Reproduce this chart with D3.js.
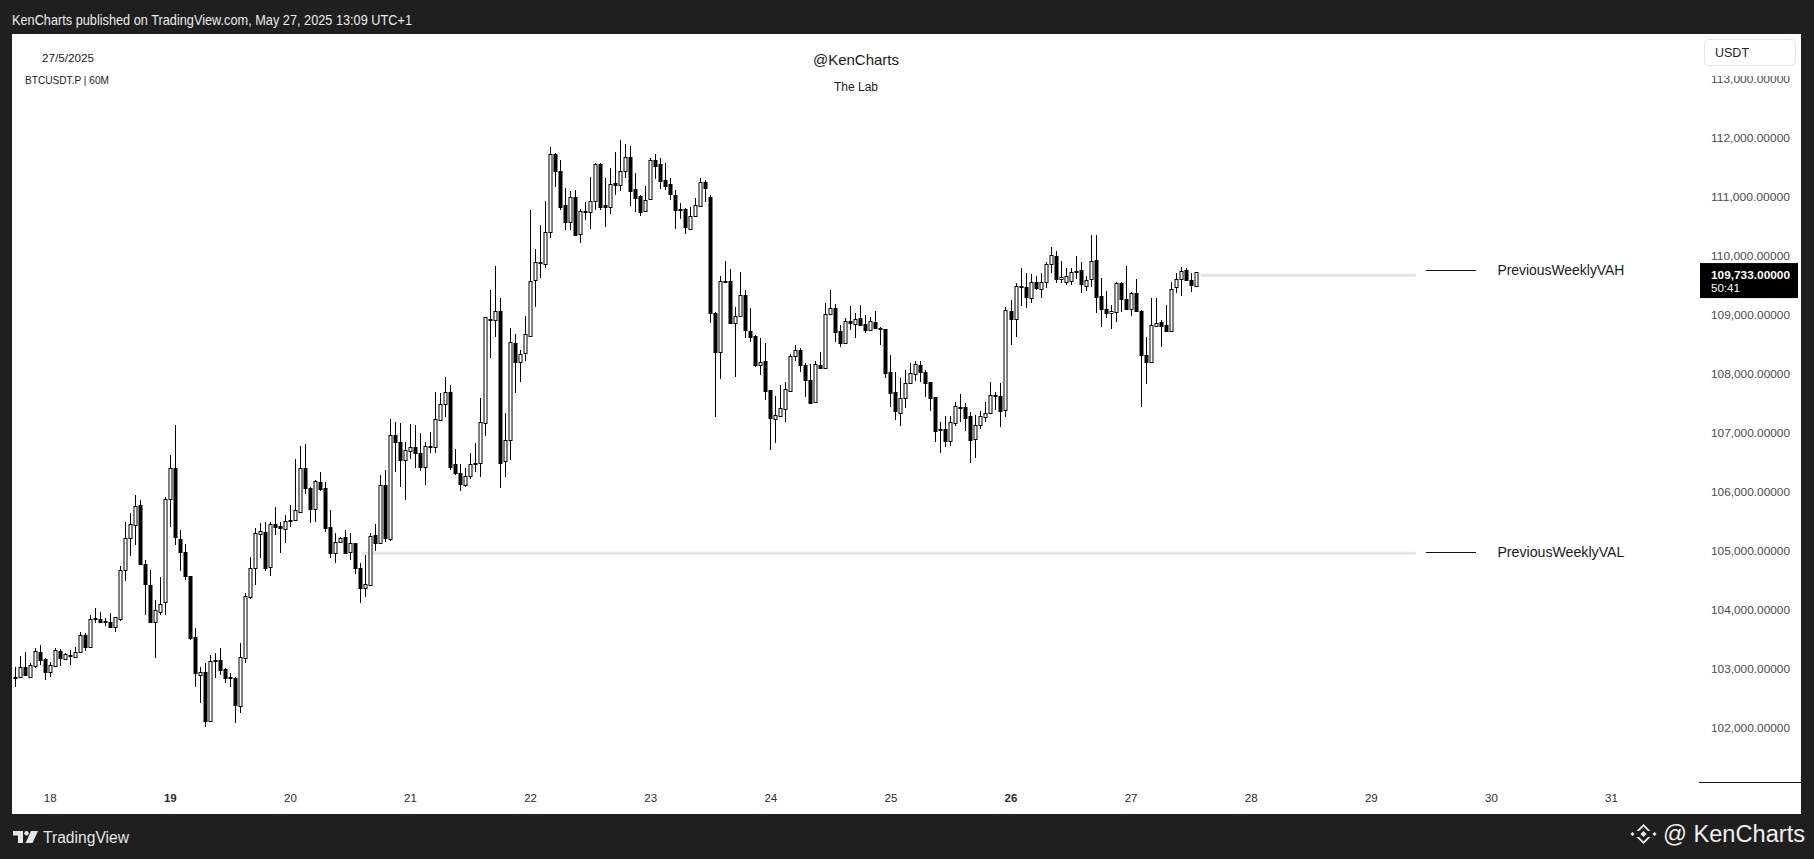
<!DOCTYPE html>
<html><head><meta charset="utf-8">
<script src="https://cdn.jsdelivr.net/npm/d3@7"></script>
<style>html,body{margin:0;padding:0;background:#1f1f1f;overflow:hidden}</style>
</head><body><svg id="c" width="1814" height="859"></svg>
<script>
// ---------- DATA (BTCUSDT.P, 60m candles, first bar 17 May 2025 17:00) ----------
const firstCandle = Date.UTC(2025, 4, 17, 17);
const opens = [
102874,102874,103044,102874,103061,103298,103168,102959,103061,103315,
103180,103242,103214,103287,103581,103383,103863,103852,103818,103807,
103722,103852,104683,105219,105451,105784,104784,104428,103807,103976,
104146,105880,106417,105208,104993,104581,103553,102903,102959,102129,
103146,103157,102999,102875,102858,102383,103197,104231,104722,105287,
105321,104739,105457,105434,105372,105519,105530,105660,106406,106067,
105711,106180,106067,105406,104965,105151,105236,104982,105135,104711,
104372,104428,105276,105135,106123,105202,106971,106858,106548,106706,
106762,106672,106423,106779,106774,107226,107497,107694,106480,106322,
106124,106276,106485,106491,107180,108921,108921,109073,106531,106887,
108536,108203,108356,108649,109599,109881,109864,110418,111734,111446,
110870,110576,111000,110378,110762,110757,110943,111559,110870,110842,
111248,111209,111452,111678,111135,111022,110774,110966,111633,111559,
111294,111226,111039,110796,110796,110457,110689,110858,111254,111011,
109045,108372,109570,109582,108875,108994,109344,108734,108649,108158,
108226,107734,107237,107293,107406,107723,108310,108412,108158,107904,
107536,108158,108113,109017,109118,108734,108536,108904,108853,108949,
108853,108751,108881,108785,108762,108045,107706,107350,107593,107847,
108005,108158,108045,107870,107610,107067,107067,106875,107180,107452,
107452,107293,106898,107135,107282,107339,107644,107632,107395,109079,
108932,109491,109474,109299,109559,109446,109559,109864,110011,109610,
109570,109587,109734,109768,109502,109610,109938,109327,109107,109034,
109062,109553,109271,109101,109384,109079,108327,108214,108819,108881,
108836,108740,109474,109610,109768,109599,109497];
const highs = [
103044,103225,103287,103112,103355,103411,103185,103129,103355,103338,
103270,103327,103372,103626,103609,103920,104033,103976,103863,103959,
103892,104750,105502,105643,105954,105869,104852,104683,104174,104570,
105926,106632,107140,105361,105123,104581,103694,103044,103101,103242,
103270,103355,103016,102931,102875,103440,104298,104909,105389,105485,
105502,105502,105756,105502,105615,105784,106564,106784,106818,106095,
106208,106349,106180,105700,105304,105248,105361,105304,105135,104796,
104937,105304,105462,106293,106378,107245,107200,107169,106858,107152,
107141,107011,106858,107028,107706,107678,107960,107819,106728,106480,
106406,106661,106841,107593,108977,109429,109836,109288,107350,108779,
108683,108412,108988,110785,110124,110531,110943,111859,111750,111633,
111152,111107,111124,110802,110926,111339,111576,111576,111322,111491,
111774,111971,111904,111870,111407,111039,111192,111661,111734,111661,
111576,111322,111124,110909,110813,110830,110983,111333,111294,111039,
109062,109672,109921,109779,109146,109740,109429,109118,108666,108610,
108536,107734,107638,107819,107875,108344,108497,108440,108186,108169,
108231,108384,109214,109429,109186,108836,108949,109163,109034,109175,
109005,108977,109073,108808,108762,108327,108045,107932,108073,108186,
108231,108231,108073,107870,107621,107197,107299,107299,107536,107666,
107519,107367,107310,107378,107536,107875,107706,107847,109135,109260,
109542,109796,109712,109700,109666,109712,109909,110152,110096,109926,
109796,109796,110005,109898,109666,110361,110361,109627,109418,109175,
109570,109570,109836,109401,109610,109090,108627,109288,109288,108921,
109175,109570,109712,109813,109796,109712,109740];
const lows = [
102694,102863,102886,102846,103016,103072,102818,102874,103044,103055,
103168,103072,103202,103270,103315,103372,103779,103779,103739,103711,
103637,103824,104496,104920,105106,104767,103920,103779,103197,103920,
103920,105417,105106,104671,104513,103496,102694,102423,102016,102112,
102846,102903,102762,102705,102084,102264,103112,104191,104428,104880,
104671,104586,105276,104965,105135,105417,105519,105643,105971,105474,
105502,106027,105332,104880,104807,105146,104954,104852,104615,104129,
104231,104417,105010,105123,105151,105180,106349,106095,105870,106559,
106406,106367,106124,106672,106661,107214,107271,106378,106293,106028,
106096,106220,106350,106265,106954,108271,108638,106067,106265,106548,
107678,107875,108226,108627,109135,109627,109796,110305,111181,110785,
110446,110446,110344,110231,110615,110463,110785,110785,110502,110717,
111039,111113,111322,110853,110757,110683,110757,110955,111305,111135,
111124,110955,110463,110627,110373,110446,110683,110853,110926,108864,
107271,107915,109542,108864,107960,108977,108610,108542,108130,107988,
107565,106717,106841,107282,107197,107706,108231,108045,107621,107508,
107525,108090,108101,109005,108553,108469,108525,108751,108621,108819,
108706,108740,108762,108497,107932,107440,107226,107129,107423,107836,
107892,107875,107621,107384,106847,106661,106774,106785,107129,107197,
107045,106502,106576,107067,107197,107327,107395,107113,107282,108497,
108627,109158,109118,109203,109429,109299,109457,109712,109542,109542,
109514,109514,109610,109373,109418,109486,109034,108808,108949,108768,
108892,109062,109090,108994,109079,107452,107830,108203,108808,108457,
108740,108723,109373,109333,109587,109389,109486];
const closes = [
102863,103044,102903,103072,103310,103157,102959,103067,103327,103185,
103259,103225,103287,103581,103383,103852,103875,103807,103812,103722,
103880,104683,105231,105462,105767,104779,104440,103795,104005,104106,
105892,106417,105236,104993,104586,103536,102931,102948,102129,103146,
103157,102988,102846,102846,102394,103202,104242,104722,105304,105344,
104722,105462,105406,105389,105513,105530,105700,106406,106067,105711,
106191,106050,105389,104965,105163,105219,104965,105135,104711,104372,
104440,105259,105135,106123,105219,106971,106858,106547,106717,106774,
106672,106423,106785,106790,107242,107497,107694,106423,106322,106141,
106276,106480,106497,107186,108966,108932,109073,106502,106887,108548,
108203,108344,108683,109582,109898,109898,110406,111734,111446,110842,
110576,111000,110361,110774,110774,110943,111559,110842,110830,111226,
111209,111446,111678,111113,110983,110757,110955,111633,111536,111282,
111192,111056,110785,110785,110491,110689,110870,111254,111152,109034,
108372,109582,109587,108875,108994,109344,108751,108638,108158,108214,
107723,107254,107310,107435,107745,108310,108412,108158,107904,107519,
108169,108101,109022,109118,108723,108536,108909,108864,108937,108836,
108751,108904,108779,108774,108028,107689,107384,107593,107847,108017,
108175,108033,107858,107604,107045,107056,106875,107197,107463,107446,
107265,106887,107141,107299,107339,107649,107655,107384,109090,108932,
109497,109502,109305,109559,109457,109559,109870,110022,109610,109655,
109666,109740,109745,109531,109599,109921,109316,109101,109034,109079,
109553,109271,109101,109384,109079,108327,108203,108836,108864,108824,
108740,109440,109610,109757,109599,109514,109733];

const dayTicks = [18,19,20,21,22,23,24,25,26,27,28,29,30,31];
const boldDays = [19,26];
const priceTicks = [102000,103000,104000,105000,106000,107000,108000,109000,110000,111000,112000,113000];

const levelNames  = ["PreviousWeeklyVAH","PreviousWeeklyVAL"];
const levelPrices = [109680, 104965];
const levelStart  = [Date.UTC(2025,4,27,14), Date.UTC(2025,4,20,14,18)];
const levelEnd    = Date.UTC(2025,4,29,9);
const labelPrices = [109775, 104988];
const labelLineFrom = Date.UTC(2025,4,29,11), labelLineTo = Date.UTC(2025,4,29,21), labelTextAt = Date.UTC(2025,4,30,1,18);

const lastPrice = 109733, countdown = "50:41";
const headerText = "KenCharts published on TradingView.com, May 27, 2025 13:09 UTC+1";
const dateText = "27/5/2025", symbolText = "BTCUSDT.P | 60M";
const titleText = "@KenCharts", subtitleText = "The Lab", currencyText = "USDT";

// ---------- LAYOUT ----------
const W = 1814, H = 859;
const svg = d3.select("#c");
const FONT = "'Liberation Sans', Arial, sans-serif";
svg.append("rect").attr("width", W).attr("height", H).attr("fill", "#1f1f1f");
svg.append("rect").attr("x", 12).attr("y", 34).attr("width", 1789).attr("height", 780).attr("fill", "#ffffff");

const x = d3.scaleUtc().domain([Date.UTC(2025,4,18), Date.UTC(2025,4,28)]).range([49.7, 1250.7]);
const y = d3.scaleLinear().domain([102000, 113000]).range([728.3, 79.3]);

const candles = opens.map((o, i) => ({t: new Date(firstCandle + i*3600e3), o, h: highs[i], l: lows[i], c: closes[i]}));

// clip for plot area
svg.append("clipPath").attr("id", "plot").append("rect").attr("x", 12).attr("y", 34).attr("width", 1686).attr("height", 780);
const plot = svg.append("g").attr("clip-path", "url(#plot)");

// level lines (grey)
plot.selectAll("line.level").data(levelPrices).join("line").attr("class", "level")
  .attr("x1", (d, i) => x(levelStart[i])).attr("x2", x(levelEnd))
  .attr("y1", d => y(d)).attr("y2", d => y(d))
  .attr("stroke", "#e4e4e4").attr("stroke-width", 3);

// level labels
levelNames.forEach((name, i) => {
  const yy = Math.round(y(labelPrices[i])) + 0.5;
  plot.append("line").attr("x1", x(labelLineFrom)).attr("x2", x(labelLineTo)).attr("y1", yy).attr("y2", yy)
    .attr("stroke", "#111").attr("stroke-width", 1);
  plot.append("text").attr("x", x(labelTextAt)).attr("y", yy).attr("dy", "0.35em")
    .attr("font-family", FONT).attr("font-size", 14).attr("fill", "#1a1a1a")
    .attr("textLength", 127).attr("lengthAdjust", "spacingAndGlyphs").text(name);
});

// candles
const cg = plot.append("g");
candles.forEach(d => {
  const cx = Math.round(x(d.t));
  const up = d.c >= d.o;
  cg.append("line").attr("x1", cx + 0.5).attr("x2", cx + 0.5)
    .attr("y1", Math.round(y(d.h))).attr("y2", Math.round(y(d.l)))
    .attr("stroke", "#000").attr("stroke-width", 1);
  const top = Math.round(y(Math.max(d.o, d.c))), bot = Math.round(y(Math.min(d.o, d.c)));
  cg.append("rect").attr("x", cx - 1).attr("y", top + 0.5)
    .attr("width", 3).attr("height", Math.max(bot - top, 1))
    .attr("fill", up ? "#fff" : "#000").attr("stroke", "#000").attr("stroke-width", 1);
});

// x axis
const xAxis = d3.axisBottom(x)
  .tickValues(dayTicks.map(d => new Date(Date.UTC(2025, 4, d))))
  .tickFormat(d3.utcFormat("%-d")).tickSize(0).tickPadding(0);
const xg = svg.append("g").attr("transform", "translate(0,794)").call(xAxis);
xg.select(".domain").remove();
xg.selectAll("text").attr("font-family", FONT).attr("font-size", 11.5).attr("fill", "#2a2a2a")
  .attr("font-weight", d => boldDays.includes(d.getUTCDate()) ? "bold" : "normal");

// y axis
svg.append("clipPath").attr("id", "axisclip").append("rect").attr("x", 1699).attr("y", 76).attr("width", 102).attr("height", 706);
const yAxis = d3.axisRight(y).tickValues(priceTicks).tickFormat(d3.format(",.5f")).tickSize(0).tickPadding(0);
const yg = svg.append("g").attr("clip-path", "url(#axisclip)").append("g").attr("transform", "translate(1790,0)").call(yAxis);
yg.select(".domain").remove();
yg.selectAll("text").attr("text-anchor", "end").attr("x", 0).attr("font-family", FONT).attr("font-size", 11)
  .attr("fill", "#4a4a4a").attr("textLength", 79).attr("lengthAdjust", "spacingAndGlyphs");
svg.append("line").attr("x1", 1699).attr("x2", 1801).attr("y1", 782.5).attr("y2", 782.5).attr("stroke", "#111");

// currency box
svg.append("rect").attr("x", 1704.5).attr("y", 39.5).attr("width", 91).attr("height", 26).attr("rx", 4)
  .attr("fill", "#fff").attr("stroke", "#e6e6e6");
svg.append("text").attr("x", 1715).attr("y", 57).attr("font-family", FONT).attr("font-size", 12.5).attr("fill", "#222").text(currencyText);

// last price tag
const ly = y(lastPrice);
svg.append("rect").attr("x", 1700).attr("y", ly - 9).attr("width", 98).attr("height", 35).attr("fill", "#000");
svg.append("text").attr("x", 1711).attr("y", ly + 3).attr("dy", "0.35em").attr("font-family", FONT).attr("font-size", 11.5)
  .attr("font-weight", "bold").attr("fill", "#fff").attr("textLength", 79).attr("lengthAdjust", "spacingAndGlyphs")
  .text(d3.format(",.5f")(lastPrice));
svg.append("text").attr("x", 1711).attr("y", ly + 16).attr("dy", "0.35em").attr("font-family", FONT).attr("font-size", 11.5)
  .attr("fill", "#fff").text(countdown);

// header
svg.append("text").attr("x", 12).attr("y", 25).attr("font-family", FONT).attr("font-size", 14.5).attr("fill", "#ececec")
  .attr("textLength", 400).attr("lengthAdjust", "spacingAndGlyphs").text(headerText);

// top-left info
svg.append("text").attr("x", 42).attr("y", 62).attr("font-family", FONT).attr("font-size", 11.5).attr("fill", "#222")
  .attr("textLength", 52).attr("lengthAdjust", "spacingAndGlyphs").text(dateText);
svg.append("text").attr("x", 25).attr("y", 84).attr("font-family", FONT).attr("font-size", 11.5).attr("fill", "#222")
  .attr("textLength", 84).attr("lengthAdjust", "spacingAndGlyphs").text(symbolText);

// title
svg.append("text").attr("x", 856).attr("y", 65).attr("text-anchor", "middle").attr("font-family", FONT)
  .attr("font-size", 15).attr("fill", "#1a1a1a").text(titleText);
svg.append("text").attr("x", 856).attr("y", 91).attr("text-anchor", "middle").attr("font-family", FONT)
  .attr("font-size", 12).attr("fill", "#1a1a1a").text(subtitleText);

// footer: TradingView logo
const tv = svg.append("g").attr("fill", "#e6e6e6");
tv.append("path").attr("d", "M13,831 H23 V843 H18 V835.5 H13 Z");
tv.append("circle").attr("cx", 26.5).attr("cy", 833.2).attr("r", 2.2);
tv.append("path").attr("d", "M31,831 H38 L32.5,843 H25.5 Z");
svg.append("text").attr("x", 43).attr("y", 842.5).attr("font-family", FONT).attr("font-size", 16).attr("fill", "#e6e6e6")
  .attr("textLength", 86).attr("lengthAdjust", "spacingAndGlyphs").text("TradingView");

// footer: binance-like mark + handle
const bn = svg.append("g").attr("fill", "#f0f0f0").attr("transform", "translate(1643.5,834)");
bn.append("path").attr("d", "M-7,-3 L0,-10 L7,-3 L4.5,-3 L0,-7.5 L-4.5,-3 Z");
bn.append("path").attr("d", "M-7,3 L0,10 L7,3 L4.5,3 L0,7.5 L-4.5,3 Z");
bn.append("path").attr("d", "M0,-3 L3,0 L0,3 L-3,0 Z");
bn.append("path").attr("d", "M-11,-2 L-9,0 L-11,2 L-13,0 Z");
bn.append("path").attr("d", "M11,-2 L13,0 L11,2 L9,0 Z");
svg.append("text").attr("x", 1663).attr("y", 842).attr("font-family", FONT).attr("font-size", 23).attr("fill", "#f0f0f0")
  .attr("textLength", 142).attr("lengthAdjust", "spacingAndGlyphs").text("@ KenCharts");
</script></body></html>
